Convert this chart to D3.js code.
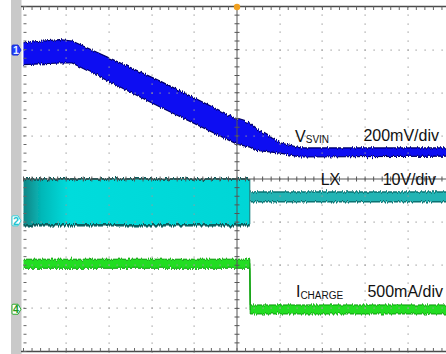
<!DOCTYPE html>
<html>
<head>
<meta charset="utf-8">
<script src="https://cdn.jsdelivr.net/npm/d3@7"></script>
<style>
  html, body { margin: 0; padding: 0; background: #fff; }
  svg { display: block; font-family: "Liberation Sans", Arial, sans-serif; }
</style>
</head>
<body>
<svg id="scope" width="446" height="354"></svg>
<script>
// ----------------------------
// Data (time and amplitude in screen divisions)
// ----------------------------
// Ch1: V_SVIN envelope
const svinT  = [0, 0.85, 1.14, 3.2, 5.0, 5.3, 5.42, 6.01, 6.48, 10];
const svinHi = [3.16, 3.23, 3.2, 2.27, 1.39, 1.30, 1.18, 0.84, 0.72, 0.72];
const svinLo = [2.65, 2.69, 2.69, 1.67, 0.81, 0.74, 0.67, 0.60, 0.51, 0.53];

// Ch2: LX envelope
const lxT  = [0, 5.3, 5.31, 10];
const lxHi = [0.0, 0.0, -0.30, -0.30];
const lxLo = [-1.07, -1.07, -0.53, -0.53];

// Ch4: I_CHARGE envelope
const chgT  = [0, 5.3, 5.31, 10];
const chgHi = [-1.86, -1.86, -2.92, -2.92];
const chgLo = [-2.07, -2.07, -3.13, -3.13];

// channel ground markers
const chNames   = ["1", "2", "4"];
const chOffsets = [2.99, -0.97, -3.02];

// labels
const traceNames = ["V", "LX", "I"];
const traceSubs  = ["SVIN", "", "CHARGE"];
const traceScales = ["200mV/div", "10V/div", "500mA/div"];

// ----------------------------
// Plotting
// ----------------------------
const svg = d3.select("#scope");
const xS = d3.scaleLinear().domain([0, 10]).range([23.5, 450.5]);
const yS = d3.scaleLinear().domain([4, -4]).range([6.5, 351.5]);

const defs = svg.append("defs");

// jagged edge texture for the traces
const flt = defs.append("filter")
    .attr("id", "noise")
    .attr("filterUnits", "userSpaceOnUse")
    .attr("x", 0).attr("y", 0).attr("width", 446).attr("height", 354);
flt.append("feTurbulence")
    .attr("type", "fractalNoise")
    .attr("baseFrequency", "0.8 0.02")
    .attr("numOctaves", 2)
    .attr("seed", 7)
    .attr("result", "turb");
const ct = flt.append("feComponentTransfer").attr("in", "turb").attr("result", "turb2");
ct.append("feFuncR").attr("type", "linear").attr("slope", 0).attr("intercept", 0.5);
flt.append("feDisplacementMap")
    .attr("in", "SourceGraphic")
    .attr("in2", "turb2")
    .attr("scale", 5)
    .attr("xChannelSelector", "R")
    .attr("yChannelSelector", "G");

const grad = defs.append("linearGradient")
    .attr("id", "lxGrad")
    .attr("gradientUnits", "userSpaceOnUse")
    .attr("x1", xS(0)).attr("x2", xS(5.3)).attr("y1", 0).attr("y2", 0);
grad.append("stop").attr("offset", 0).attr("stop-color", "#0d8585");
grad.append("stop").attr("offset", 0.08).attr("stop-color", "#05b8b8");
grad.append("stop").attr("offset", 0.2).attr("stop-color", "#00dcdc");
grad.append("stop").attr("offset", 1).attr("stop-color", "#00d6d6");

// left gray strip
svg.append("rect")
    .attr("x", 11).attr("y", 0).attr("width", 10.5).attr("height", 354)
    .attr("fill", "#c9c9c9");

const plot = svg.append("g");

function toPts(t, hi, lo) {
  return t.map((d, i) => ({ t: d, hi: hi[i], lo: lo[i] }));
}
const areaGen = d3.area().x(d => xS(d.t)).y0(d => yS(d.lo)).y1(d => yS(d.hi));
const hiGen = d3.line().x(d => xS(d.t)).y(d => yS(d.hi));
const loGen = d3.line().x(d => xS(d.t)).y(d => yS(d.lo));
const midGen = d3.line().x(d => xS(d.t)).y(d => yS((d.hi + d.lo) / 2));

// Ch4 I_CHARGE
const chg = toPts(chgT, chgHi, chgLo);
const gChg = plot.append("g").attr("filter", "url(#noise)");
gChg.append("path").datum(chg).attr("d", midGen)
    .attr("fill", "none").attr("stroke", "#22cc22").attr("stroke-width", 1.2);
gChg.append("path").datum(chg).attr("d", areaGen).attr("fill", "#22dd22");
gChg.append("path").datum(chg).attr("d", hiGen).attr("fill", "none").attr("stroke", "#0f9a0f").attr("stroke-width", 1);
gChg.append("path").datum(chg).attr("d", loGen).attr("fill", "none").attr("stroke", "#0f9a0f").attr("stroke-width", 1);

// Ch2 LX
const lxA = toPts(lxT.slice(0, 2), lxHi.slice(0, 2), lxLo.slice(0, 2));
const lxB = toPts(lxT.slice(2), lxHi.slice(2), lxLo.slice(2));
const gLx = plot.append("g").attr("filter", "url(#noise)");
gLx.append("path").datum(lxA).attr("d", areaGen).attr("fill", "url(#lxGrad)");
gLx.append("path").datum(lxA).attr("d", hiGen).attr("fill", "none").attr("stroke", "#0a5e5e").attr("stroke-width", 2);
gLx.append("path").datum(lxA).attr("d", loGen).attr("fill", "none").attr("stroke", "#0a5e5e").attr("stroke-width", 2.5);
gLx.append("path").datum(lxB).attr("d", areaGen).attr("fill", "#22b4b4");
gLx.append("path").datum(lxB).attr("d", hiGen).attr("fill", "none").attr("stroke", "#0b7272").attr("stroke-width", 1.5);
gLx.append("path").datum(lxB).attr("d", loGen).attr("fill", "none").attr("stroke", "#0b7272").attr("stroke-width", 1.5);
gLx.append("line")
    .attr("x1", xS(5.3)).attr("x2", xS(5.3))
    .attr("y1", yS(lxHi[0])).attr("y2", yS(lxLo[0]))
    .attr("stroke", "#0b7272").attr("stroke-width", 1);

// Ch1 V_SVIN
const svin = toPts(svinT, svinHi, svinLo);
const gSv = plot.append("g").attr("filter", "url(#noise)");
gSv.append("path").datum(svin).attr("d", areaGen).attr("fill", "#0a0af2");
gSv.append("path").datum(svin).attr("d", hiGen).attr("fill", "none").attr("stroke", "#000066").attr("stroke-width", 1.2);
gSv.append("path").datum(svin).attr("d", loGen).attr("fill", "none").attr("stroke", "#000066").attr("stroke-width", 1.2);

// ----------------------------
// Graticule
// ----------------------------
const grid = svg.append("g");
const minorX = d3.range(0, 10.001, 0.2);
const minorY = d3.range(-4, 4.001, 0.2);
const majorX = [1, 2, 3, 4, 6, 7, 8, 9];
const majorY = [-3, -2, -1, 1, 2, 3];

majorX.forEach(mx => {
  grid.selectAll(null).data(minorY).enter().append("rect")
      .attr("x", Math.round(xS(mx)) - 0.5).attr("y", d => Math.round(yS(d)) - 0.5)
      .attr("width", 1.2).attr("height", 1.2).attr("fill", "#9a9a9a");
});
majorY.forEach(my => {
  grid.selectAll(null).data(minorX).enter().append("rect")
      .attr("x", d => Math.round(xS(d)) - 0.5).attr("y", Math.round(yS(my)) - 0.5)
      .attr("width", 1.2).attr("height", 1.2).attr("fill", "#9a9a9a");
});

// center axes
grid.append("line")
    .attr("x1", xS(0)).attr("x2", 446).attr("y1", yS(0)).attr("y2", yS(0))
    .attr("stroke", "#555").attr("stroke-width", 1);
grid.append("line")
    .attr("x1", xS(5)).attr("x2", xS(5)).attr("y1", yS(4)).attr("y2", yS(-4))
    .attr("stroke", "#555").attr("stroke-width", 1);
grid.selectAll(null).data(minorX).enter().append("line")
    .attr("x1", d => xS(d)).attr("x2", d => xS(d))
    .attr("y1", yS(0) - 2.5).attr("y2", yS(0) + 2.5)
    .attr("stroke", "#555");
grid.selectAll(null).data(minorY).enter().append("line")
    .attr("x1", xS(5) - 2.5).attr("x2", xS(5) + 2.5)
    .attr("y1", d => yS(d)).attr("y2", d => yS(d))
    .attr("stroke", "#555");

// borders
grid.append("line")
    .attr("x1", 21).attr("x2", 446).attr("y1", yS(4)).attr("y2", yS(4))
    .attr("stroke", "#4a4a4a").attr("stroke-width", 1.6);
grid.append("line")
    .attr("x1", 21).attr("x2", 446).attr("y1", yS(-4)).attr("y2", yS(-4))
    .attr("stroke", "#4a4a4a").attr("stroke-width", 1.6);
grid.selectAll(null).data(minorX).enter().append("line")
    .attr("x1", d => xS(d)).attr("x2", d => xS(d))
    .attr("y1", yS(4)).attr("y2", yS(4) + 3.5)
    .attr("stroke", "#666");
grid.selectAll(null).data(minorX).enter().append("line")
    .attr("x1", d => xS(d)).attr("x2", d => xS(d))
    .attr("y1", yS(-4)).attr("y2", yS(-4) - 3.5)
    .attr("stroke", "#666");
grid.selectAll(null).data(minorY).enter().append("line")
    .attr("x1", xS(0)).attr("x2", xS(0) + 3)
    .attr("y1", d => yS(d)).attr("y2", d => yS(d))
    .attr("stroke", "#666");

// trigger position marker
svg.append("circle")
    .attr("cx", xS(5)).attr("cy", yS(4) + 0.5).attr("r", 3.2)
    .attr("fill", "#f0a020");

// ----------------------------
// Channel markers
// ----------------------------
const markFill   = ["#1f3cff", "#ffffff", "#ffffff"];
const markStroke = ["#1a2fd0", "#33d0d8", "#2aaa2a"];
const markText   = ["#e8f0ff", "#22c4d0", "#229922"];
chNames.forEach((name, i) => {
  const cy = yS(chOffsets[i]);
  const g = svg.append("g").attr("transform", `translate(12,${cy})`);
  g.append("path")
      .attr("d", "M1,-5 H6 L9,0 L6,5 H1 Q0,5 0,4 V-4 Q0,-5 1,-5 Z")
      .attr("fill", markFill[i])
      .attr("stroke", markStroke[i])
      .attr("stroke-width", 1);
  g.append("text")
      .attr("x", 4).attr("y", 3.8)
      .attr("text-anchor", "middle")
      .attr("font-size", 10.5)
      .attr("font-weight", "bold")
      .attr("fill", markText[i])
      .text(name);
});

// ----------------------------
// Labels
// ----------------------------
const nameX = [6.36, 6.96, 6.38];
const nameY = [0.86, -0.14, -2.74];
const scaleRight = [439, 436, 443];
const lab = svg.append("g").attr("fill", "#111");
traceNames.forEach((name, i) => {
  const t = lab.append("text")
      .attr("x", xS(nameX[i]))
      .attr("y", yS(nameY[i]))
      .attr("font-size", 16);
  t.append("tspan").text(name);
  if (traceSubs[i]) {
    t.append("tspan").attr("font-size", 10).attr("dy", 1.5).text(traceSubs[i]);
  }
  lab.append("text")
      .attr("x", scaleRight[i])
      .attr("y", yS(nameY[i]) - (i === 0 ? 1 : 0))
      .attr("text-anchor", "end")
      .attr("font-size", 16)
      .text(traceScales[i]);
});
</script>
</body>
</html>
